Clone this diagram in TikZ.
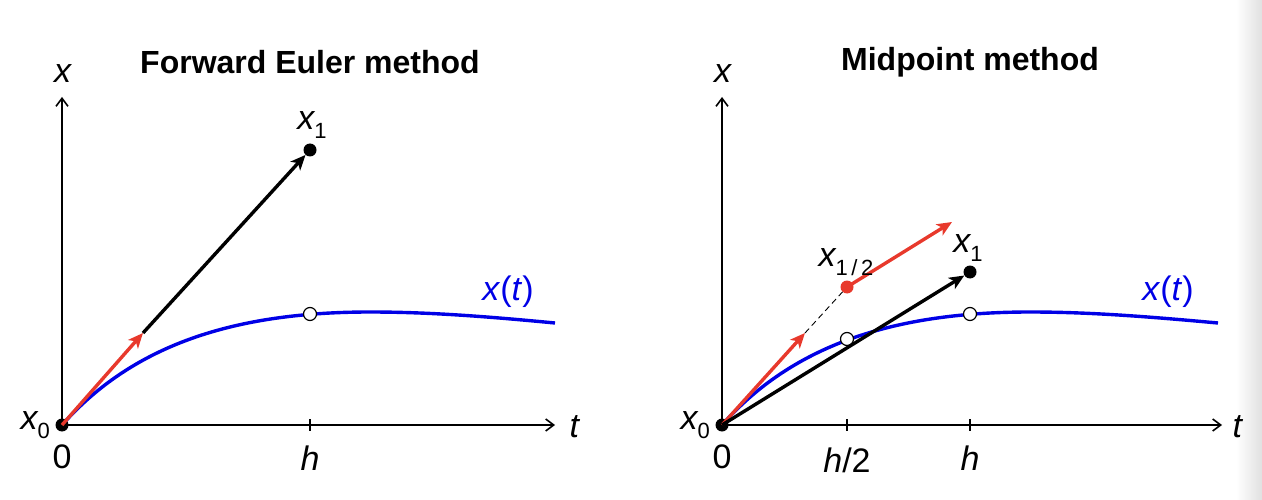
\documentclass[tikz,border=0pt]{standalone}
\usepackage{fontspec}
\setmainfont{Liberation Sans}
\usetikzlibrary{arrows.meta}
\definecolor{myred}{HTML}{E8392C}
\definecolor{myblue}{HTML}{0000E6}
\newcommand{\lbl}[2]{\textit{#1}\kern-0.03em\raisebox{-0.27em}{\fontsize{22}{22}\selectfont #2}}
\tikzset{
  axis/.style={line width=1.8pt,-{Straight Barb[length=8pt,width=12pt,line width=1.6pt]}},
  arr/.style={line width=3.4pt,-{Stealth[length=15pt,width=13pt,inset=4pt]}},
  redarr/.style={arr,myred},
  curve/.style={line width=3.4pt,myblue},
  dot/.style={circle,fill=black,inner sep=0pt,minimum size=13pt},
  reddot/.style={circle,fill=myred,inner sep=0pt,minimum size=13pt},
  odot/.style={circle,draw=black,line width=1.2pt,fill=white,inner sep=0pt,minimum size=13pt},
  lab/.style={font=\fontsize{34}{34}\selectfont,inner sep=0pt},
  ttl/.style={font=\fontsize{32}{32}\selectfont\bfseries,inner sep=0pt},
  tick/.style={line width=1.6pt}
}
\begin{document}
\begin{tikzpicture}[x=1pt,y=-1pt]
\useasboundingbox (0,0) rectangle (1262,500);
\shade[left color=white,right color=black!12] (1236,0) rectangle (1262,500);
% ---------- Left panel ----------
\node[ttl] (T1) at (310,62) {Forward Euler method};
\coordinate (Y1) at (62,97);
\coordinate (Xe1) at (555,425);
\coordinate (H1a) at (310,419);
\coordinate (H1b) at (310,431);
\draw[tick] (H1a) -- (H1b);
\draw[curve] (62,425) .. controls (132,346) and (232,312) .. (370,312) .. controls (432,312) and (492,317) .. (555,323);
\node[odot] (C1) at (310,314) {};
\coordinate (R1) at (143,333);
\node[dot] (X1) at (310,150) {};
\draw[axis] (62,425) -- (Y1);
\draw[axis] (62,425) -- (Xe1);
\node[dot] (O1) at (62,425) {};
\draw[redarr] (O1.center) -- (R1);
\draw[arr] (R1) -- (X1);
\node[lab] (LX1) at (63,74) {\textit{x}};
\node[lab] (LT1) at (575,427) {\textit{t}};
\node[lab,anchor=east] (LX01) at (50,425) {\lbl{x}{0}};
\node[lab] (L01) at (62,457) {0};
\node[lab] (LH1) at (310,458) {\textit{h}};
\node[lab] (LXa1) at (312,125) {\lbl{x}{1}};
\node[lab,myblue] (LXt1) at (508,292) {\textit{x}(\textit{t})};
% ---------- Right panel ----------
\node[ttl] (T2) at (970,62) {Midpoint method};
\coordinate (Y2) at (722,97);
\coordinate (Xe2) at (1222,425);
\coordinate (H2a) at (847,419);
\coordinate (H2b) at (847,431);
\coordinate (H3a) at (970,419);
\coordinate (H3b) at (970,431);
\draw[tick] (H2a) -- (H2b);
\draw[tick] (H3a) -- (H3b);
\draw[curve] (722,425) .. controls (792,346) and (892,312) .. (1030,312) .. controls (1092,312) and (1152,317) .. (1218,323);
\draw[axis] (722,425) -- (Y2);
\draw[axis] (722,425) -- (Xe2);
\node[odot] (C2) at (847,339) {};
\node[odot] (C3) at (970,314) {};
\coordinate (R2) at (805,333);
\coordinate (R3) at (952,222);
\node[reddot] (M) at (847,287) {};
\node[dot] (X2) at (970,272) {};
\node[dot] (O2) at (722,425) {};
\draw[redarr] (O2.center) -- (R2);
\draw[line width=0.9pt,dash pattern=on 6pt off 4pt] (R2) -- (M);
\draw[redarr] (M.center) -- (R3);
\draw[arr] (O2.center) -- (X2);
\node[lab] (LX2) at (723,74) {\textit{x}};
\node[lab] (LT2) at (1238,427) {\textit{t}};
\node[lab,anchor=east] (LX02) at (710,425) {\lbl{x}{0}};
\node[lab] (L02) at (722,457) {0};
\node[lab] (LH2) at (847,460) {\textit{h}/2};
\node[lab] (LH3) at (970,458) {\textit{h}};
\node[lab] (LXm) at (846,262) {\lbl{x}{1\,/\,2}};
\node[lab] (LXa2) at (968,248) {\lbl{x}{1}};
\node[lab,myblue] (LXt2) at (1168,292) {\textit{x}(\textit{t})};
\end{tikzpicture}
\end{document}
